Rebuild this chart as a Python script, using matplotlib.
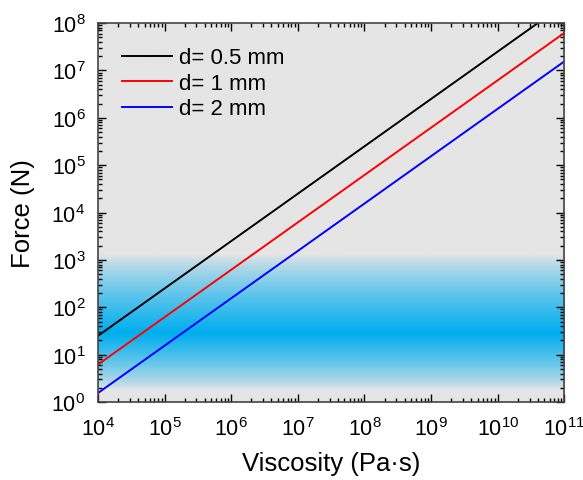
"""Force vs viscosity for different needle diameters."""

import matplotlib

matplotlib.use("Agg")

import matplotlib.pyplot as plt
import numpy as np
from matplotlib.colors import LinearSegmentedColormap
from matplotlib.ticker import LogLocator, NullFormatter

plt.rcParams["font.family"] = ["Liberation Sans", "DejaVu Sans"]
plt.rcParams["mathtext.fontset"] = "custom"
plt.rcParams["mathtext.rm"] = "Liberation Sans"
plt.rcParams["mathtext.it"] = "Liberation Sans:italic"
plt.rcParams["mathtext.bf"] = "Liberation Sans:bold"

# data
viscosity = [1e4, 1e11]
force_05mm = [25.0, 2.5e8]
force_1mm = [6.2, 6.2e7]
force_2mm = [1.55, 1.55e7]
labels = ["d= 0.5 mm", "d= 1 mm", "d= 2 mm"]
colors = ["black", "red", "blue"]

# blue band (log10 of force)
band_center = 1.45
band_low = 0.25
band_high = 3.1

fig = plt.figure(figsize=(5.83, 4.81), dpi=100)
ax = fig.add_axes([0.168, 0.162, 0.800, 0.788])
ax.set_facecolor("#e5e5e5")

# background gradient, laid out in axes coordinates (log10 force 0..8)
logy = np.linspace(0, 8, 800)
prof = np.zeros_like(logy)
up = (logy >= band_center) & (logy <= band_high)
lo = (logy < band_center) & (logy >= band_low)
prof[up] = 1 - (logy[up] - band_center) / (band_high - band_center)
prof[lo] = 1 - (band_center - logy[lo]) / (band_center - band_low)
prof = prof ** 0.8
cmap = LinearSegmentedColormap.from_list("band", ["#e5e5e5", "#00aeef"])
ax.imshow(prof[:, None], aspect="auto", cmap=cmap, vmin=0, vmax=1, origin="lower",
          extent=[0, 1, 0, 1], transform=ax.transAxes, zorder=0, interpolation="bilinear")

for ys, lab, c in zip([force_05mm, force_1mm, force_2mm], labels, colors):
    ax.plot(viscosity, ys, color=c, lw=1.4, label=lab, zorder=2)

ax.set_xscale("log")
ax.set_yscale("log")
ax.set_xlim(1e4, 1e11)
ax.set_ylim(1e0, 1e8)
ax.xaxis.set_major_locator(LogLocator(base=10, numticks=20))
ax.yaxis.set_major_locator(LogLocator(base=10, numticks=20))
ax.xaxis.set_minor_locator(LogLocator(base=10, subs=np.arange(2, 10), numticks=20))
ax.yaxis.set_minor_locator(LogLocator(base=10, subs=np.arange(2, 10), numticks=20))
ax.xaxis.set_minor_formatter(NullFormatter())
ax.yaxis.set_minor_formatter(NullFormatter())
ax.tick_params(which="both", direction="in", top=True, right=True, labelsize=15.5, width=1)
ax.tick_params(axis="x", pad=11)
ax.tick_params(axis="y", pad=9)
ax.tick_params(which="major", length=6)
ax.tick_params(which="minor", length=3)
for s in ax.spines.values():
    s.set_color("#444444")
    s.set_linewidth(1.2)

ax.set_xlabel("Viscosity (Pa\u00b7s)", fontsize=18.5, labelpad=8)
ax.set_ylabel("Force (N)", fontsize=18.5, labelpad=12)
ax.legend(loc="upper left", frameon=False, fontsize=16, handlelength=2.25,
          handletextpad=0.3, labelspacing=0.2, borderaxespad=0.7)

fig.savefig("out.png", dpi=100)
plt.close(fig)
